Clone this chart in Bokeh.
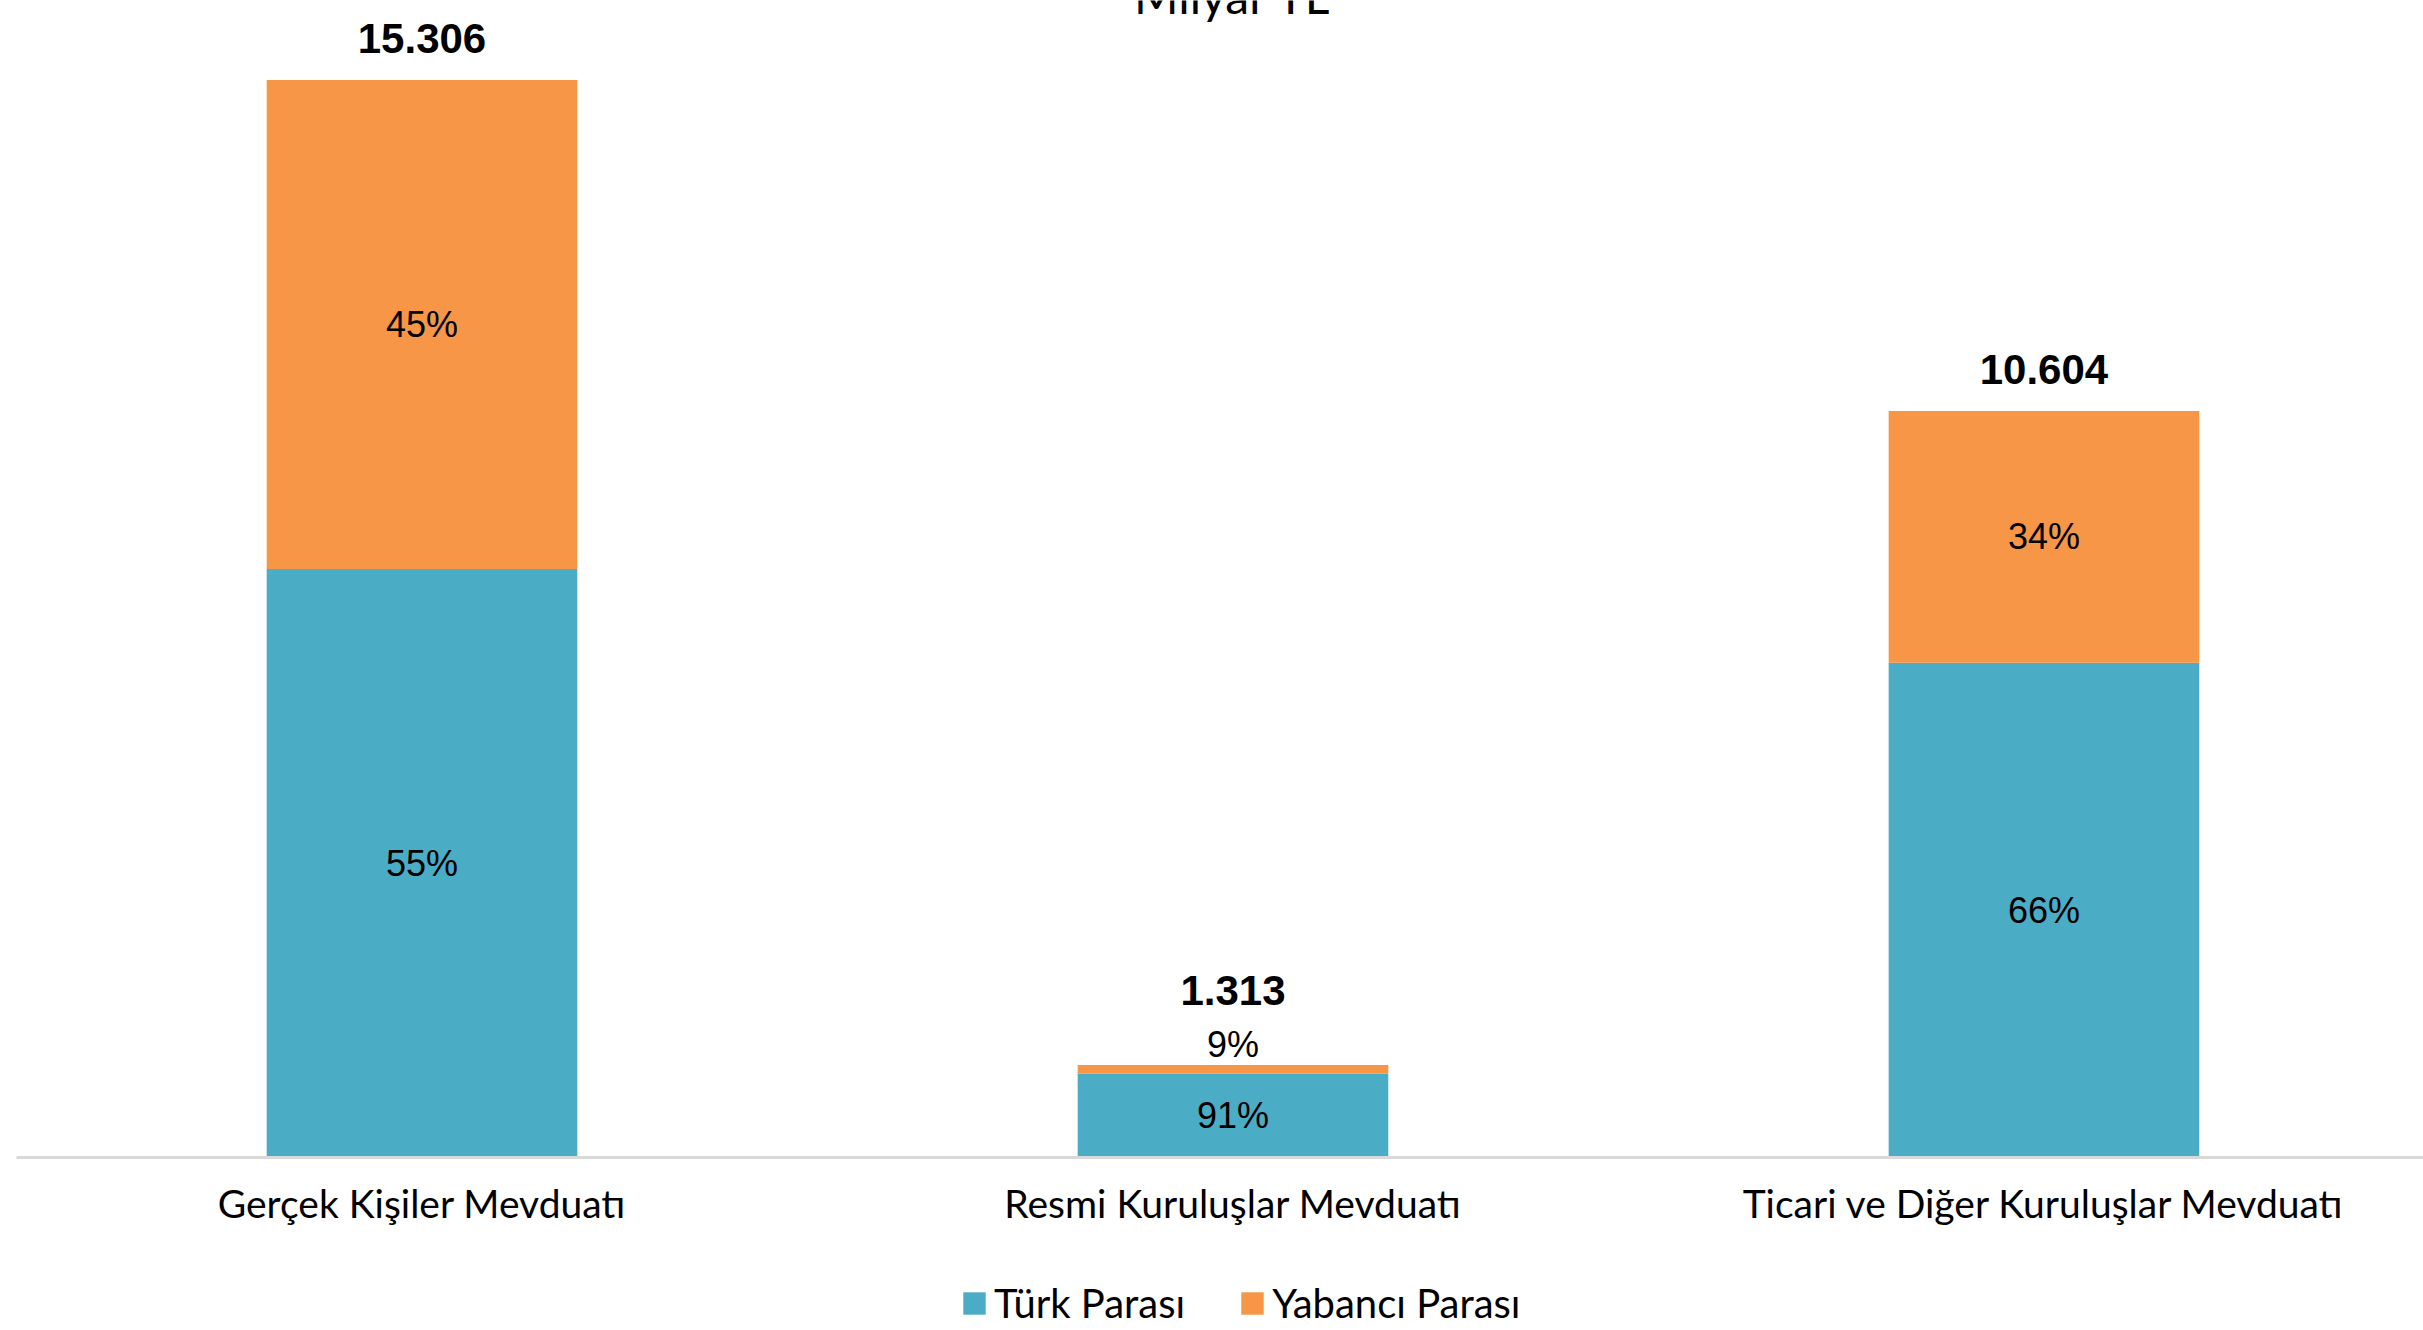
from bokeh.plotting import figure
from bokeh.layouts import column
from bokeh.models import (ColumnDataSource, Range1d, FixedTicker, Legend, LegendItem)
from bokeh.core.properties import value
from bokeh.embed import file_html
from bokeh.resources import INLINE

# ---- data ----
categories = ["Gerçek Kişiler Mevduatı", "Resmi Kuruluşlar Mevduatı",
              "Ticari ve Diğer Kuruluşlar Mevduatı"]
turk_parasi = [8360, 1195, 7029]
yabanci_parasi = [6946, 118, 3575]
series_names = ["Türk Parası", "Yabancı Parası"]
title_text = "Milyar TL"

TEAL = "#4BACC6"
ORANGE = "#F79646"
COLORS = [TEAL, ORANGE]
LABEL_FONT = "Lato"
NUM_FONT = "Liberation Sans"

idx = list(range(len(categories)))
totals = [a + b for a, b in zip(turk_parasi, yabanci_parasi)]

def tr_fmt(v):
    return f"{v:,}".replace(",", ".")

src = ColumnDataSource(dict(x=idx, tl=turk_parasi, yp=yabanci_parasi, total=totals))

p = figure(width=2423, height=1240,
           x_range=Range1d(-0.5, 2.468), y_range=Range1d(0, 16436),
           output_backend="svg", toolbar_location=None,
           min_border_left=16, min_border_right=0, min_border_top=0,
           min_border_bottom=83)
p.outline_line_color = None
p.xgrid.visible = False
p.ygrid.visible = False
p.yaxis.visible = False

BAR_W = 0.383
rs = p.vbar_stack(["tl", "yp"], x="x", width=BAR_W, source=src,
                  color=COLORS, line_color=None)

# percentage labels (a too-thin segment gets its label just above the bar)
pct_x, pct_y, pct_t, pct_off = [], [], [], []
tot_off = []
for i, (a, b, t) in enumerate(zip(turk_parasi, yabanci_parasi, totals)):
    pct_x.append(i); pct_y.append(a / 2); pct_t.append(f"{round(100 * a / t)}%")
    pct_off.append(0)
    small = b / t < 0.15
    pct_x.append(i)
    pct_y.append(t if small else a + b / 2)
    pct_t.append(f"{round(100 * b / t)}%")
    pct_off.append(-21 if small else 0)
    tot_off.append(-75 if small else -42)

psrc = ColumnDataSource(dict(x=pct_x, y=pct_y, t=pct_t, off=pct_off))
p.text(x="x", y="y", text="t", y_offset="off", source=psrc,
       text_align="center", text_baseline="middle", text_font=value(NUM_FONT),
       text_font_size="36px", text_color="#000000")

tsrc = ColumnDataSource(dict(x=idx, y=totals, t=[tr_fmt(v) for v in totals], off=tot_off))
p.text(x="x", y="y", text="t", y_offset="off", source=tsrc, text_align="center",
       text_baseline="middle", text_font=value(NUM_FONT), text_font_size="42px",
       text_font_style="bold", text_color="#000000")

# title, cut off by the top edge as in the original
p.text(x=[1], y=[p.y_range.end], text=[title_text], y_offset=-5, text_align="center",
       text_baseline="alphabetic", text_font=value(LABEL_FONT), text_font_size="48px",
       text_color="#000000")

ax = p.xaxis[0]
ax.ticker = FixedTicker(ticks=idx)
ax.major_label_overrides = {i: c for i, c in zip(idx, categories)}
ax.axis_line_color = "#d9d9d9"
ax.axis_line_width = 3
ax.major_tick_line_color = None
ax.minor_tick_line_color = None
ax.major_label_text_font = LABEL_FONT
ax.major_label_text_font_size = "39px"
ax.major_label_text_color = "#000000"
ax.major_label_standoff = 16

# legend strip
lg = figure(width=2423, height=90, x_range=Range1d(0, 1), y_range=Range1d(0, 1),
            output_backend="svg", toolbar_location=None,
            min_border_left=0, min_border_right=0, min_border_top=0, min_border_bottom=0)
lg.outline_line_color = None
lg.axis.visible = False
lg.grid.visible = False
# legend-only renderers: their single bar sits outside the visible range
dummy = ColumnDataSource(dict(x=[5], top=[1]))
lr = [lg.vbar(x="x", top="top", width=0.1, source=dummy, color=c, line_color=None)
      for c in COLORS]
legend = Legend(items=[LegendItem(label=n, renderers=[r]) for n, r in zip(series_names, lr)],
                orientation="horizontal", location=(944, 3),
                glyph_width=28, glyph_height=28, label_standoff=6, spacing=53,
                border_line_color=None, background_fill_alpha=0, padding=0,
                margin=0, label_text_font=LABEL_FONT, label_text_font_size="40px",
                label_text_color="#000000")
lg.add_layout(legend, "center")

layout = column(p, lg, spacing=0)
open("out.html", "w").write(file_html(layout, INLINE))
